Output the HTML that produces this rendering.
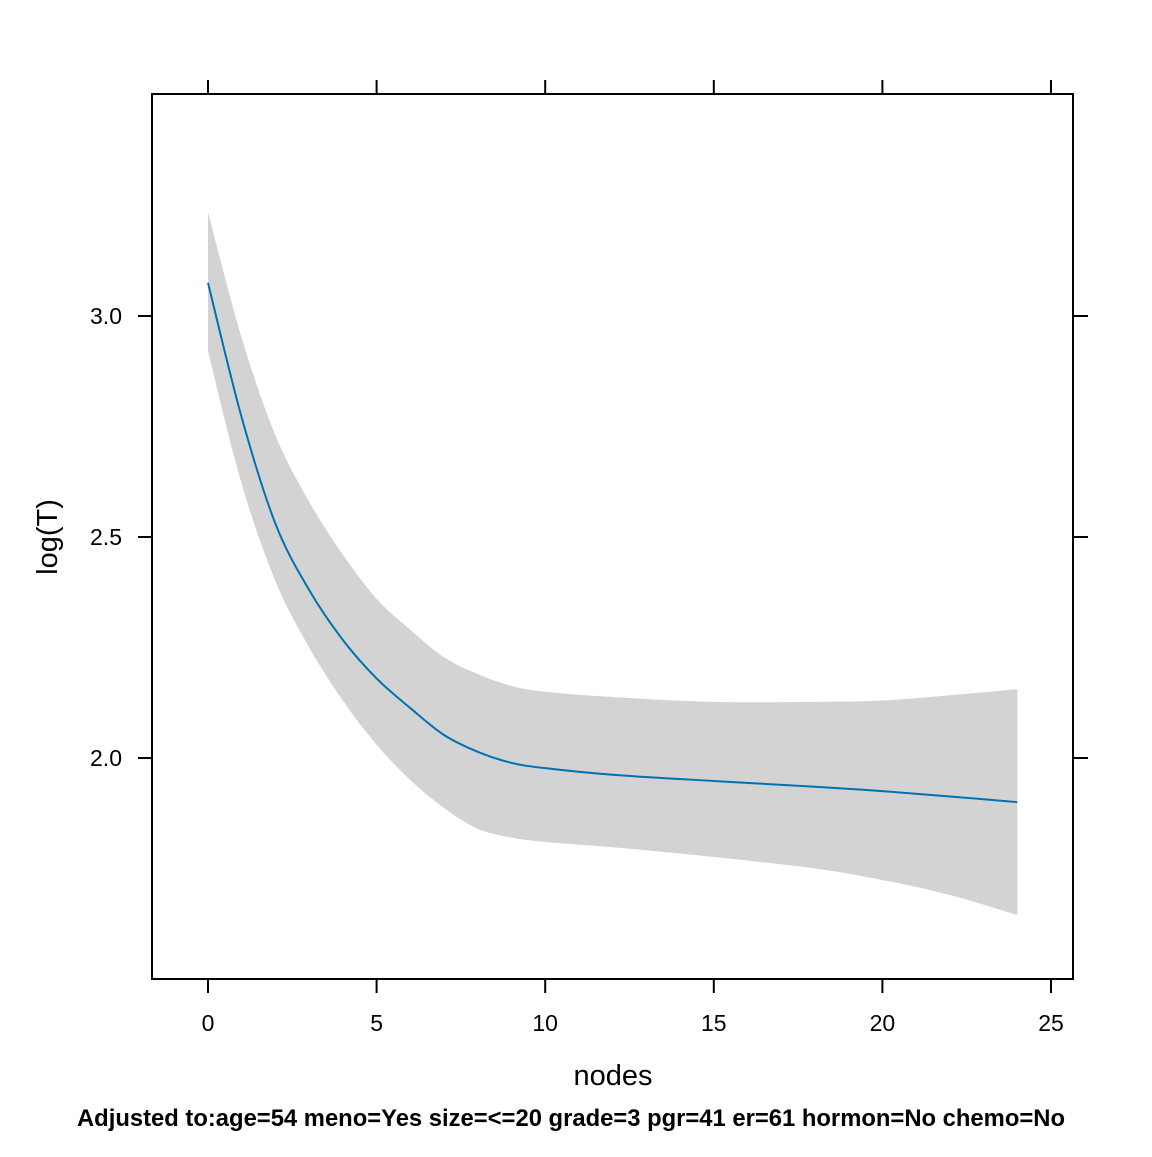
<!DOCTYPE html>
<html><head><meta charset="utf-8"><style>
body{margin:0;background:#fff;}
text{font-family:"Liberation Sans",Arial,sans-serif;}
</style></head><body>
<svg id="chart" width="1152" height="1152" xmlns="http://www.w3.org/2000/svg">
<rect width="1152" height="1152" fill="#fff"/>
<g id="band"></g><g id="line"></g><g id="axes"></g>
<text x="613" y="1085" font-size="29" text-anchor="middle">nodes</text>
<text transform="translate(57,537) rotate(-90)" font-size="29" text-anchor="middle">log(T)</text>
<text x="571" y="1126" font-size="23.8" font-weight="bold" text-anchor="middle">Adjusted to:age=54 meno=Yes size=&lt;=20 grade=3 pgr=41 er=61 hormon=No chemo=No</text>
</svg>
<script>
const nodes=[0,1,2,3,4,5,6,7,8,9,10,12,15,18,20,22,24];
const fit=[3.075,2.77,2.53,2.38,2.267,2.18,2.113,2.052,2.014,1.989,1.977,1.962,1.948,1.935,1.925,1.913,1.90];
const upper=[3.235,2.95,2.73,2.58,2.46,2.36,2.29,2.228,2.19,2.163,2.15,2.138,2.127,2.127,2.13,2.142,2.156];
const lower=[2.92,2.62,2.40,2.25,2.13,2.03,1.95,1.887,1.84,1.82,1.81,1.798,1.776,1.75,1.724,1.69,1.645];
const xTicks=[0,5,10,15,20,25];
const yTicks=[2.0,2.5,3.0];
const NS="http://www.w3.org/2000/svg";
const X=v=>208+v*33.72, Y=v=>758-(v-2)*442;
const L=152,R=1073,T=94,B=979;
function mk(t,a,p){const e=document.createElementNS(NS,t);for(const k in a)e.setAttribute(k,a[k]);document.getElementById(p).appendChild(e);return e;}
function smooth(xs,ys,start){
  const P=xs.map((x,i)=>[X(x),Y(ys[i])]);
  let d=(start?'M':'L')+P[0][0]+','+P[0][1];
  for(let i=0;i<P.length-1;i++){
    const p0=P[Math.max(0,i-1)],p1=P[i],p2=P[i+1],p3=P[Math.min(P.length-1,i+2)];
    d+='C'+(p1[0]+(p2[0]-p0[0])/6)+','+(p1[1]+(p2[1]-p0[1])/6)+' '+(p2[0]-(p3[0]-p1[0])/6)+','+(p2[1]-(p3[1]-p1[1])/6)+' '+p2[0]+','+p2[1];
  }
  return d;
}
const rx=nodes.slice().reverse();
const d=smooth(nodes,upper,true)+smooth(rx,lower.slice().reverse(),false)+'Z';
const band=mk('path',{d:d,fill:'#d3d3d3'},'band');


const ln=mk('path',{d:smooth(nodes,fit,true),fill:'none',stroke:'#0072b2','stroke-width':2},'line');


const fr=mk('rect',{x:L,y:T,width:R-L,height:B-T,fill:'none',stroke:'#000','stroke-width':2},'axes');


xTicks.forEach(t=>{const x=X(t);
mk('line',{x1:x,x2:x,y1:B,y2:B+14,stroke:'#000','stroke-width':2},'axes');
mk('line',{x1:x,x2:x,y1:T,y2:T-14,stroke:'#000','stroke-width':2},'axes');
const tx=mk('text',{x:x,y:1031,'font-size':23,'text-anchor':'middle'},'axes');tx.textContent=t;

});
yTicks.forEach(t=>{const y=Y(t);
mk('line',{x1:L,x2:L-14,y1:y,y2:y,stroke:'#000','stroke-width':2},'axes');
mk('line',{x1:R,x2:R+15,y1:y,y2:y,stroke:'#000','stroke-width':2},'axes');
const tx=mk('text',{x:122,y:y+8,'font-size':23,'text-anchor':'end'},'axes');tx.textContent=t.toFixed(1);

});
</script>
</body></html>
